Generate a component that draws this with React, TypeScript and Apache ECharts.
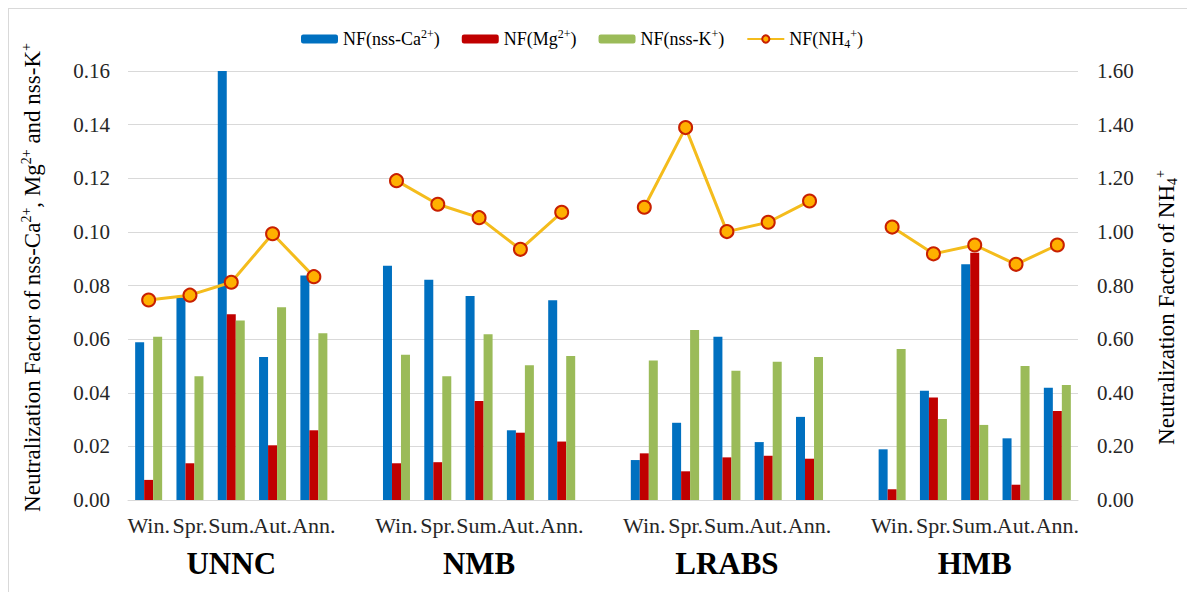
import React, { useEffect, useRef } from "react";
import * as echarts from "echarts";

const groups = ["UNNC", "NMB", "LRABS", "HMB"];
const seasons = ["Win.", "Spr.", "Sum.", "Aut.", "Ann."];

const caValues = [
  [0.0588, 0.0755, 0.16, 0.0533, 0.0837],
  [0.0874, 0.0821, 0.0761, 0.026, 0.0745],
  [0.0149, 0.0288, 0.0609, 0.0216, 0.031],
  [0.0189, 0.0407, 0.0879, 0.023, 0.0419],
];
const mgValues = [
  [0.0075, 0.0137, 0.0693, 0.0204, 0.026],
  [0.0137, 0.0141, 0.0369, 0.0251, 0.0218],
  [0.0174, 0.0107, 0.0159, 0.0165, 0.0154],
  [0.004, 0.0382, 0.0922, 0.0057, 0.0332],
];
const kValues = [
  [0.0609, 0.0462, 0.0669, 0.0719, 0.0622],
  [0.0542, 0.0462, 0.0618, 0.0503, 0.0537],
  [0.052, 0.0634, 0.0482, 0.0516, 0.0533],
  [0.0563, 0.0302, 0.028, 0.05, 0.0429],
];
const nh4Values = [
  [0.746, 0.764, 0.812, 0.993, 0.833],
  [1.191, 1.103, 1.053, 0.935, 1.073],
  [1.092, 1.389, 1.001, 1.036, 1.115],
  [1.018, 0.918, 0.951, 0.879, 0.951],
];

const leftTicks = { min: 0, max: 0.16, interval: 0.02 };
const rightTicks = { min: 0, max: 1.6, interval: 0.2 };

const seriesNames = ["NF(nss-Ca2+)", "NF(Mg2+)", "NF(nss-K+)", "NF(NH4+)"];
const legendRich: Record<string, string> = {
  "NF(nss-Ca2+)": "NF(nss-Ca{sup|2+})",
  "NF(Mg2+)": "NF(Mg{sup|2+})",
  "NF(nss-K+)": "NF(nss-K{sup|+})",
  "NF(NH4+)": "NF(NH{sub|4}{sup|+})",
};

function flatten(vals: number[][]): (number | null)[] {
  const out: (number | null)[] = [];
  vals.forEach((g, gi) => {
    g.forEach((v) => out.push(v));
    if (gi < vals.length - 1) out.push(null);
  });
  return out;
}

const seasonCats: string[] = [];
const groupCats: string[] = [];
groups.forEach((g, gi) => {
  seasons.forEach((s, si) => {
    seasonCats.push(s);
    groupCats.push(si === 2 ? g : "");
  });
  if (gi < groups.length - 1) {
    seasonCats.push(" ");
    groupCats.push(" ");
  }
});

const FONT = "'Liberation Serif', 'Times New Roman', serif";

export default function App() {
  const ref = useRef<HTMLDivElement>(null);
  useEffect(() => {
    if (!ref.current) return;
    const chart = echarts.init(ref.current, undefined, { renderer: "svg" });
    const supRich = {
      sup: { fontSize: 14, verticalAlign: "top", lineHeight: 13, fontFamily: FONT, color: "#000" },
      sub: { fontSize: 14, verticalAlign: "bottom", lineHeight: 13, fontFamily: FONT, color: "#000" },
    };
    chart.setOption({
      animation: false,
      backgroundColor: "#fff",
      textStyle: { fontFamily: FONT },
      legend: {
        top: 14,
        left: 287,
        itemWidth: 37,
        itemHeight: 9,
        itemGap: 22,
        data: seriesNames,
        formatter: (n: string) => legendRich[n] || n,
        textStyle: {
          fontFamily: FONT,
          fontSize: 18,
          color: "#000",
          lineHeight: 22,
          rich: {
            sup: { fontSize: 12, verticalAlign: "top", lineHeight: 12, fontFamily: FONT, color: "#000" },
            sub: { fontSize: 12, verticalAlign: "bottom", lineHeight: 12, fontFamily: FONT, color: "#000" },
          },
        },
      },
      grid: { left: 119, right: 117, top: 62, bottom: 92, containLabel: false },
      xAxis: [
        {
          type: "category",
          data: seasonCats,
          boundaryGap: true,
          axisLine: { show: true, lineStyle: { color: "#D9D9D9", width: 1 } },
          axisTick: { show: false },
          axisLabel: {
            interval: 0,
            margin: 14,
            fontFamily: FONT,
            fontSize: 22,
            color: "#262626",
          },
        },
        {
          type: "category",
          data: groupCats,
          position: "bottom",
          boundaryGap: true,
          axisLine: { show: false },
          axisTick: { show: false },
          axisLabel: {
            interval: 0,
            margin: 48,
            fontFamily: FONT,
            fontSize: 31,
            fontWeight: "bold",
            color: "#000",
          },
        },
      ],
      yAxis: [
        {
          type: "value",
          ...leftTicks,
          position: "left",
          axisLine: { show: false },
          axisTick: { show: false },
          splitLine: { show: true, lineStyle: { color: "#D9D9D9", width: 1 } },
          axisLabel: {
            margin: 18,
            fontFamily: FONT,
            fontSize: 21,
            color: "#262626",
            formatter: (v: number) => v.toFixed(2),
          },
          name: "Neutralization Factor of nss-Ca{sup|2+}, Mg{sup|2+} and nss-K{sup|+}",
          nameLocation: "middle",
          nameRotate: 90,
          nameGap: 83,
          nameTextStyle: {
            fontFamily: FONT,
            fontSize: 23,
            color: "#000",
            lineHeight: 26,
            padding: [0, 0, 0, 16],
            rich: supRich,
          },
        },
        {
          type: "value",
          ...rightTicks,
          position: "right",
          axisLine: { show: false },
          axisTick: { show: false },
          splitLine: { show: false },
          axisLabel: {
            margin: 19,
            fontFamily: FONT,
            fontSize: 21,
            color: "#262626",
            formatter: (v: number) => v.toFixed(2),
          },
          name: "Neutralization Factor of NH{sub|4}{sup|+}",
          nameLocation: "middle",
          nameRotate: 90,
          nameGap: 75,
          nameTextStyle: {
            fontFamily: FONT,
            fontSize: 23,
            color: "#000",
            lineHeight: 26,
            padding: [0, 44, 0, 0],
            rich: supRich,
          },
        },
      ],
      series: [
        {
          name: seriesNames[0],
          type: "bar",
          data: flatten(caValues),
          barWidth: 9,
          barGap: "0%",
          itemStyle: { color: "#0070C0" },
        },
        {
          name: seriesNames[1],
          type: "bar",
          data: flatten(mgValues),
          barWidth: 9,
          barGap: "0%",
          itemStyle: { color: "#C00000" },
        },
        {
          name: seriesNames[2],
          type: "bar",
          data: flatten(kValues),
          barWidth: 9,
          barGap: "0%",
          itemStyle: { color: "#9BBB59" },
        },
        {
          name: seriesNames[3],
          type: "line",
          yAxisIndex: 1,
          data: flatten(nh4Values),
          connectNulls: false,
          symbol: "circle",
          symbolSize: 13,
          lineStyle: { color: "#F4BC1C", width: 3 },
          itemStyle: { color: "#FFB000", borderColor: "#C82000", borderWidth: 2 },
          z: 5,
        },
      ],
    });
    return () => chart.dispose();
  }, []);
  return (
    <div
      ref={ref}
      style={{
        width: 1186,
        height: 583,
        borderTop: "1px solid #D9D9D9",
        borderLeft: "1px solid #D9D9D9",
      }}
    />
  );
}
